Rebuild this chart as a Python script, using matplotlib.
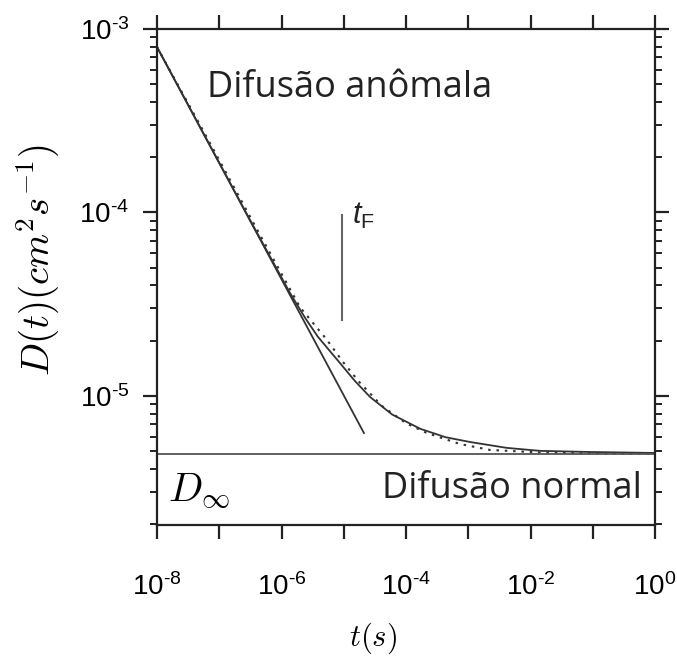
import matplotlib
matplotlib.use('Agg')
import matplotlib.pyplot as plt
from matplotlib.ticker import FixedLocator, FuncFormatter, LogLocator, NullFormatter
import numpy as np

plt.rcParams['font.family'] = ['Liberation Sans', 'DejaVu Sans']
plt.rcParams['mathtext.fontset'] = 'custom'
plt.rcParams['mathtext.rm'] = 'Liberation Sans'
plt.rcParams['mathtext.it'] = 'Liberation Sans:italic'

# D(t) completo (linha cheia) e aproximação (pontilhada)
t_full = [1e-8, 4.91e-8, 3.12e-7, 1.37e-6, 2.4e-6, 3.85e-6, 8.71e-6, 1.5e-5,
          2.64e-5, 6.0e-5, 1.7e-4, 4.3e-4, 1.07e-3, 4.19e-3, 1.42e-2, 9.04e-2, 1.0]
D_full = [7.98e-4, 2.92e-4, 9.10e-5, 3.64e-5, 2.66e-5, 2.10e-5, 1.51e-5, 1.21e-5,
          9.88e-6, 7.92e-6, 6.62e-6, 5.96e-6, 5.61e-6, 5.21e-6, 5.02e-6, 4.95e-6, 4.89e-6]

t_dot = [1e-8, 4.91e-8, 4.52e-7, 1.98e-6, 5.38e-6, 9.73e-6, 1.82e-5, 4.11e-5,
         1.0e-4, 2.17e-4, 7.36e-4, 2.23e-3, 1.42e-2, 9.04e-2, 1.0]
D_dot = [7.98e-4, 3.00e-4, 7.54e-5, 3.05e-5, 2.02e-5, 1.53e-5, 1.18e-5, 8.82e-6,
         7.10e-6, 6.28e-6, 5.47e-6, 5.08e-6, 4.92e-6, 4.86e-6, 4.84e-6]

# regime anômalo (lei de potência)
t_pow = [1e-8, 2.11e-5]
D_pow = [7.98e-4, 6.28e-6]

D_inf = 4.8e-6
t_F = 9.5e-6
tF_span = [2.6e-5, 9.7e-5]

xlim = (1e-8, 1.0)
ylim = (1.98e-6, 1e-3)


def pot10(v, pos):
    k = int(round(np.log10(v)))
    s = str(k).replace('-', '\u2010')
    return r'$\mathregular{10^{%s}}$' % s


fig = plt.figure(figsize=(6.77, 6.56), dpi=100)
ax = fig.add_axes([157/677, 1 - 525/656, 498/677, 496/656])
ax.set_xscale('log')
ax.set_yscale('log')

line_c = '#333333'
ax.plot(t_pow, D_pow, color=line_c, lw=1.3)
ax.plot(t_full, D_full, color=line_c, lw=1.3)
ax.plot(t_dot, D_dot, color=line_c, lw=1.5, linestyle=(0, (1.2, 2.8)))
ax.axhline(D_inf, color='#555555', lw=1.3)
ax.plot([t_F, t_F], tF_span, color='#666666', lw=1.5)

ax.set_xlim(*xlim)
ax.set_ylim(*ylim)

# eixo x: marca em cada década, rótulo nas pares
ax.xaxis.set_major_locator(FixedLocator([10.0**k for k in range(-8, 1)]))
ax.xaxis.set_minor_locator(FixedLocator([]))
ax.xaxis.set_major_formatter(FuncFormatter(
    lambda v, p: pot10(v, p) if round(np.log10(v)) % 2 == 0 else ''))
ax.yaxis.set_major_locator(FixedLocator([1e-5, 1e-4, 1e-3]))
ax.yaxis.set_minor_locator(LogLocator(base=10, subs=np.arange(2, 10)))
ax.yaxis.set_minor_formatter(NullFormatter())
ax.yaxis.set_major_formatter(FuncFormatter(pot10))

for s in ax.spines.values():
    s.set_linewidth(1.6)
    s.set_color('#222222')
ax.tick_params(which='major', direction='out', length=10, width=1.6, color='#222222',
               top=True, right=True, labelsize=20, pad=10)
ax.tick_params(which='minor', direction='out', length=5, width=1.4, color='#222222',
               left=True, right=True)
ax.tick_params(axis='x', pad=25)

ax.set_xlabel(r'$t(s)$', fontsize=22, math_fontfamily='cm')
ax.xaxis.set_label_coords(0.434, -0.192)
ax.set_ylabel(r'$D(t)(cm^2s^{-1})$', fontsize=28, math_fontfamily='cm')
ax.yaxis.set_label_coords(-0.19, 0.534)

ax.text(207/677, 1 - 97/656, 'Difusão anômala', transform=fig.transFigure,
        fontsize=26, family='Open Sans', color='#222222', ha='left', va='baseline')
ax.text(642/677, 1 - 498/656, 'Difusão normal', transform=fig.transFigure,
        fontsize=26, family='Open Sans', color='#222222', ha='right', va='baseline')
ax.text(168/677, 1 - 502/656, r'$D_\infty$', transform=fig.transFigure,
        fontsize=29, math_fontfamily='cm', ha='left', va='baseline')
ax.text(352/677, 1 - 224/656, r'$t_{\mathrm{F}}$', transform=fig.transFigure,
        fontsize=22, color='#222222', ha='left', va='baseline')

fig.savefig('out.png', dpi=100)
